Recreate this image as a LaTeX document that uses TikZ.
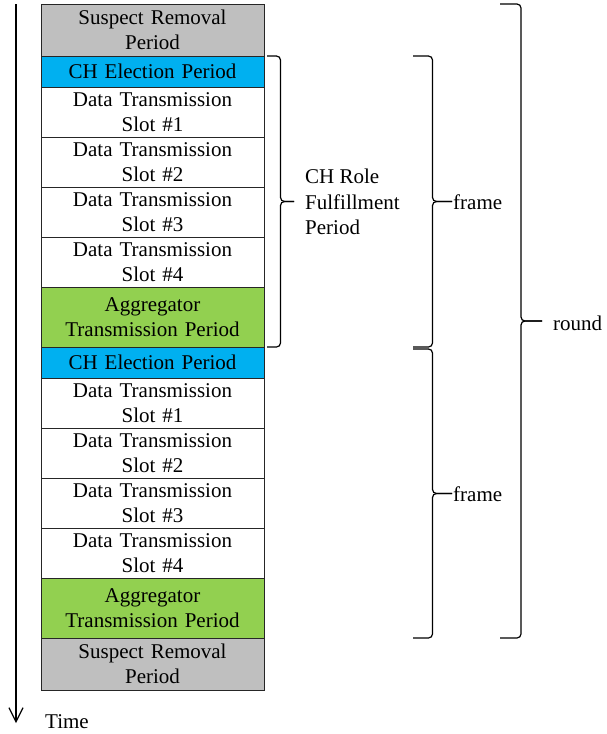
\documentclass[tikz,border=0pt]{standalone}
\usepackage{fontspec}
\setmainfont{Liberation Serif}
\usetikzlibrary{positioning,arrows.meta}

\definecolor{srgray}{HTML}{BFBFBF}
\definecolor{chblue}{HTML}{00B0F0}
\definecolor{agggreen}{HTML}{92D050}

\tikzset{
  period/.style={draw=black!85, line width=1pt, inner sep=0pt, outer sep=0pt,
    text width=223pt, align=center, font=\fontsize{21}{25}\selectfont},
  brace line/.style={line width=1.2pt, rounded corners=4pt},
  lbl/.style={inner sep=0pt, font=\fontsize{21}{25.5}\selectfont}
}

% brace opening to the right: x of the ends, top y, bottom y, depth
\newcommand{\sidebrace}[4]{%
  \pgfmathsetmacro{\brX}{#1+#4/2}
  \pgfmathsetmacro{\brT}{#1+#4}
  \pgfmathsetmacro{\brM}{(#2+#3)/2}
  \draw[brace line] (#1,#2) -| (\brX,\brM) -- (\brT,\brM);
  \draw[brace line] (#1,#3) -| (\brX,\brM) -- (\brT,\brM);
}

\begin{document}
\begin{tikzpicture}[x=1pt, y=-1pt]

    \useasboundingbox (0,0) rectangle (606,734);

    % Time axis
    \coordinate (tstart) at (16,4);
    \coordinate (tend) at (16,723);
    \draw[-{Straight Barb[length=14pt,width=14pt]}, line width=1.2pt] (tstart) -- (tend);
    \node[lbl] (time) at (67,722) {Time};

    % First frame
    \node[period, fill=srgray, minimum height=52pt, anchor=north west] (sr1) at (41,4) {Suspect Removal\\Period};
    \node[period, fill=chblue, minimum height=31pt, below=0pt of sr1] (ch1) {CH Election Period};
    \node[period, minimum height=50pt, below=0pt of ch1] (ds11) {Data Transmission\\Slot \#1};
    \node[period, minimum height=50pt, below=0pt of ds11] (ds12) {Data Transmission\\Slot \#2};
    \node[period, minimum height=50pt, below=0pt of ds12] (ds13) {Data Transmission\\Slot \#3};
    \node[period, minimum height=50pt, below=0pt of ds13] (ds14) {Data Transmission\\Slot \#4};
    \node[period, fill=agggreen, minimum height=60pt, below=0pt of ds14] (agg1) {Aggregator\\Transmission Period};

    % Second frame
    \node[period, fill=chblue, minimum height=31pt, below=0pt of agg1] (ch2) {CH Election Period};
    \node[period, minimum height=50pt, below=0pt of ch2] (ds21) {Data Transmission\\Slot \#1};
    \node[period, minimum height=50pt, below=0pt of ds21] (ds22) {Data Transmission\\Slot \#2};
    \node[period, minimum height=50pt, below=0pt of ds22] (ds23) {Data Transmission\\Slot \#3};
    \node[period, minimum height=50pt, below=0pt of ds23] (ds24) {Data Transmission\\Slot \#4};
    \node[period, fill=agggreen, minimum height=60pt, below=0pt of ds24] (agg2) {Aggregator\\Transmission Period};
    \node[period, fill=srgray, minimum height=52pt, below=0pt of agg2] (sr2) {Suspect Removal\\Period};

    % Braces
    \sidebrace{267}{56}{347}{27}
    \node[lbl, anchor=west, align=left] (chrole) at (305,202) {CH Role\\Fulfillment\\Period};

    \sidebrace{413}{56}{347}{39}
    \node[lbl, anchor=west] (frame1) at (453,202) {frame};

    \sidebrace{413}{349}{638}{39}
    \node[lbl, anchor=west] (frame2) at (453,494) {frame};

    \sidebrace{500}{4}{638}{42}
    \node[lbl, anchor=west] (round) at (553,323) {round};

\end{tikzpicture}
\end{document}
